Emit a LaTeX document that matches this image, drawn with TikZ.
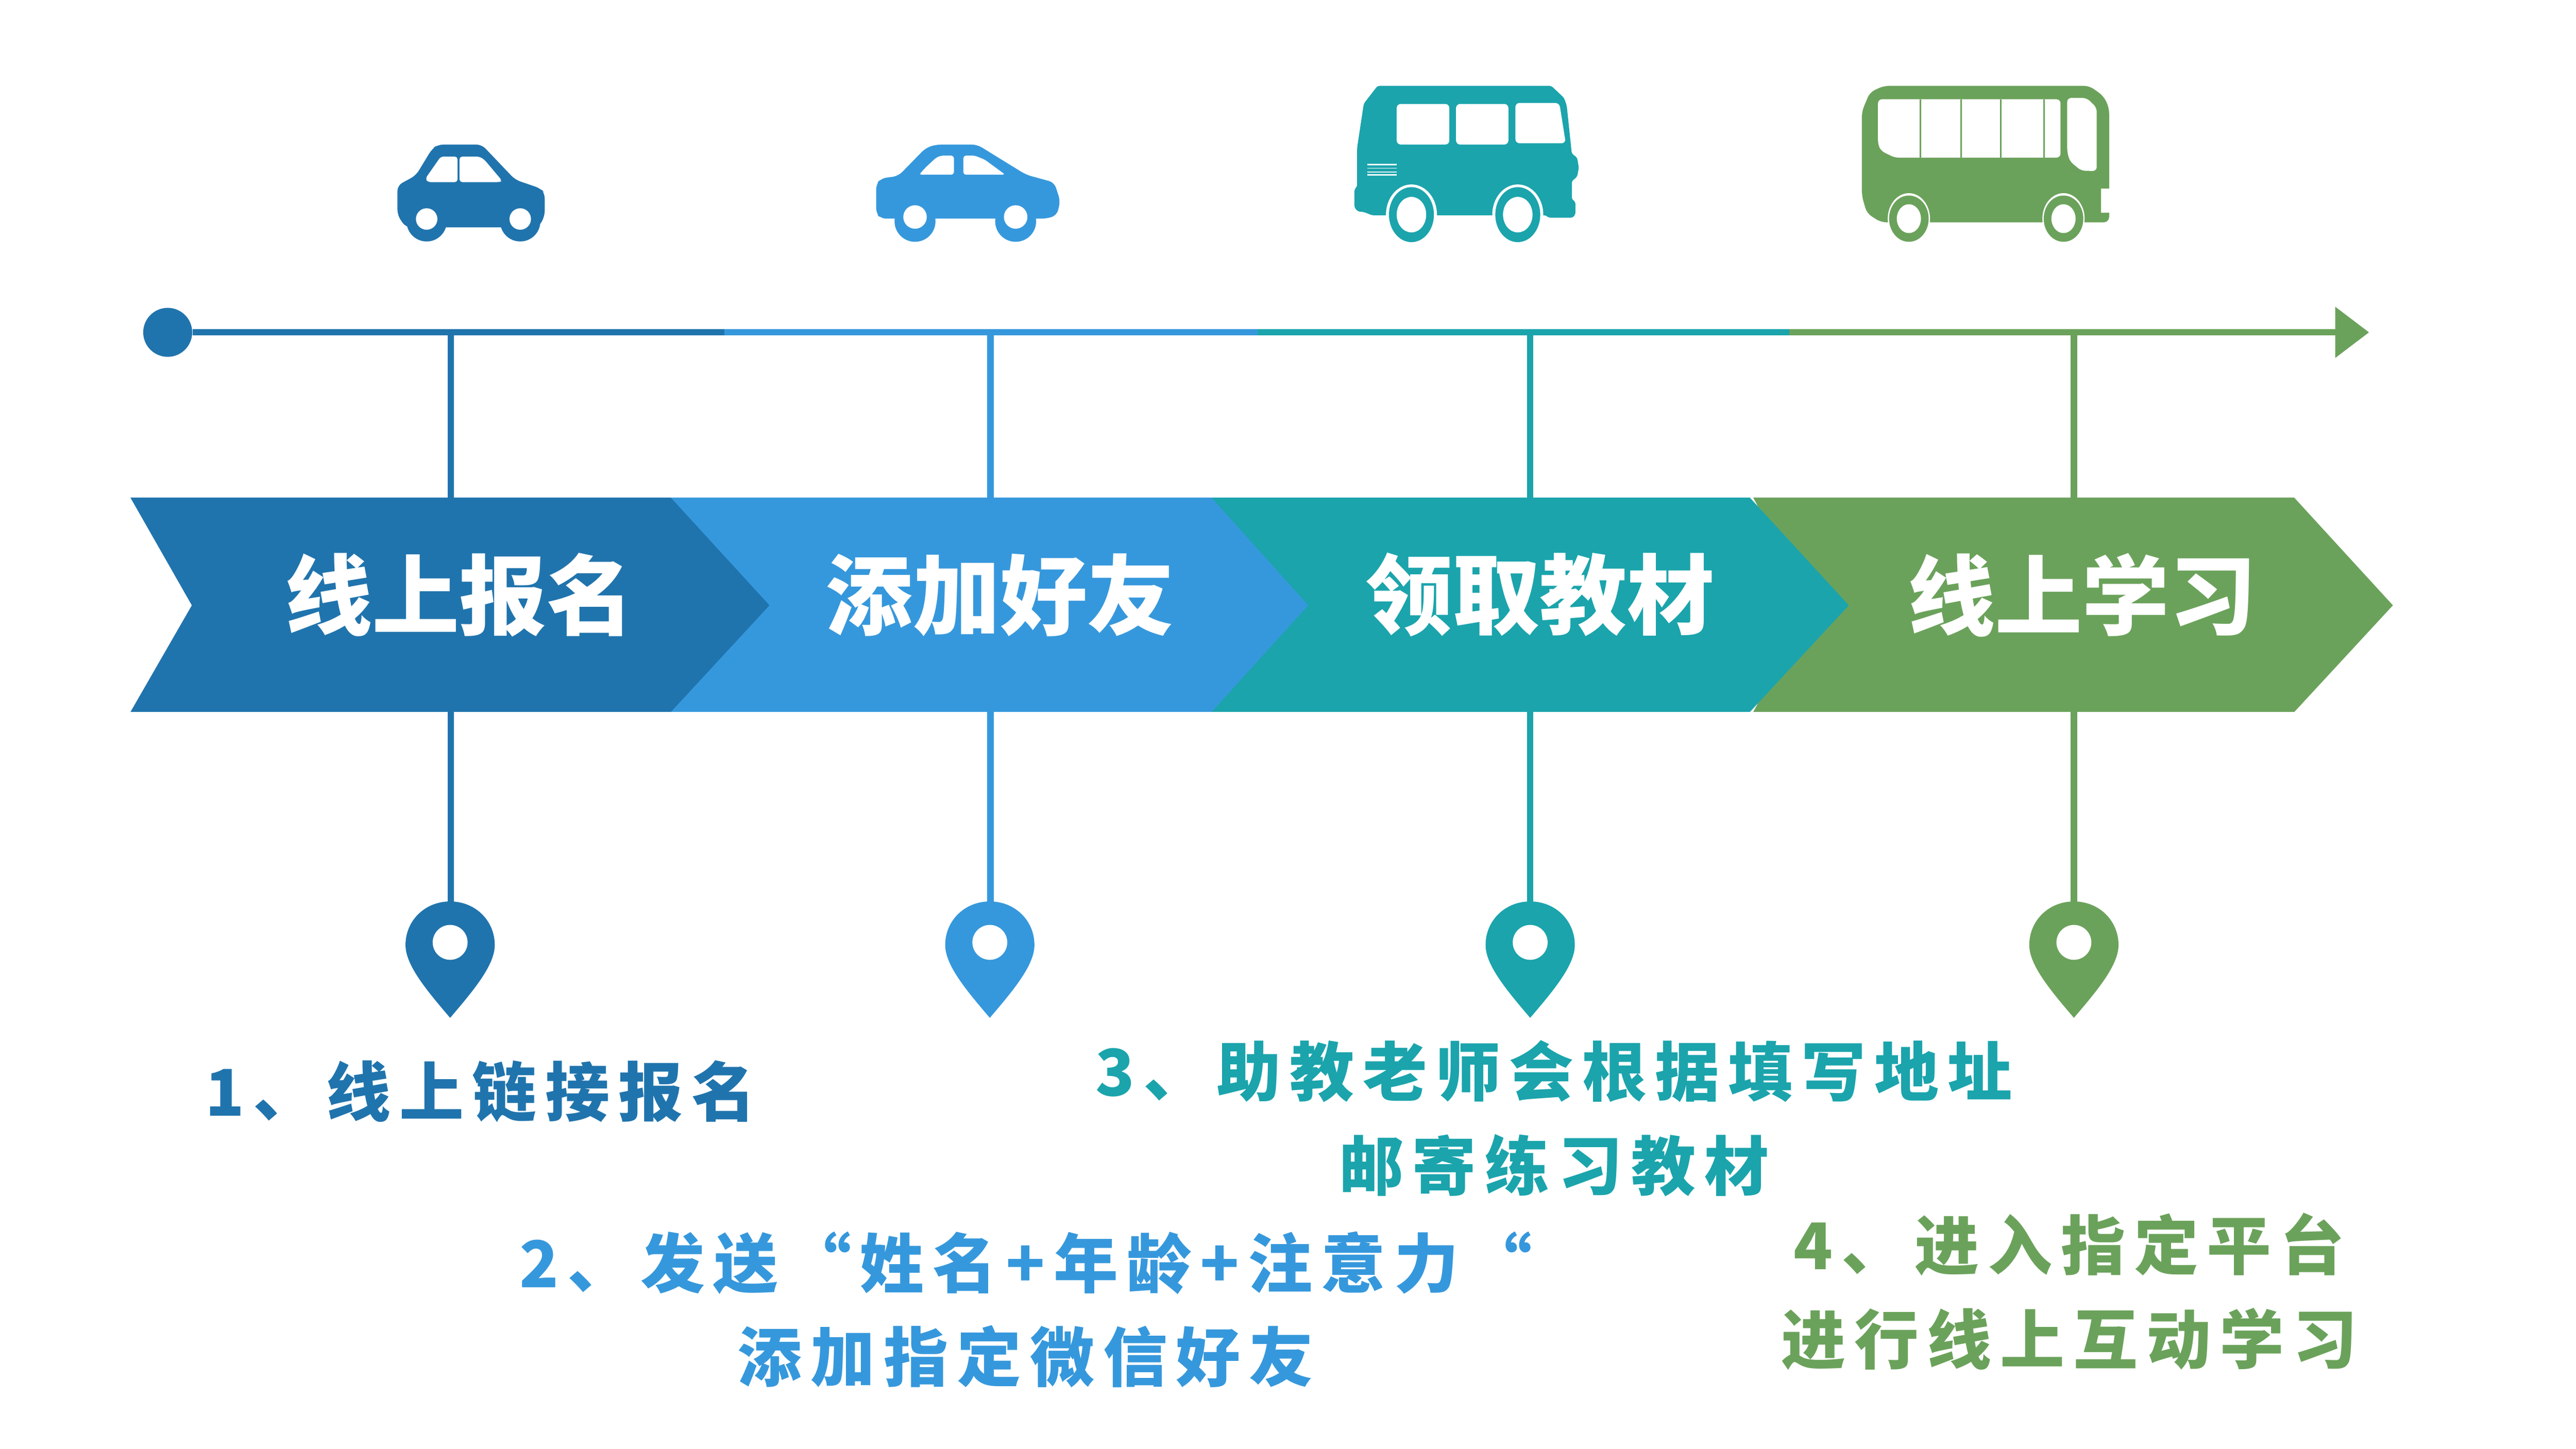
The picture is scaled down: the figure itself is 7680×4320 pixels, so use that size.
\documentclass[tikz,border=0pt]{standalone}
\usepackage{fontspec}
\usepackage{xcolor}
\usetikzlibrary{arrows.meta}
\newfontfamily\cjk{Noto Sans CJK SC}
\newfontfamily\cjkspaced[LetterSpace=13.5]{Noto Sans CJK SC}
\definecolor{navyblue}{HTML}{2074AD}
\definecolor{skyblue}{HTML}{3698DC}
\definecolor{tealgreen}{HTML}{1BA4AC}
\definecolor{leafgreen}{HTML}{6BA25B}
\tikzstyle{axis} = [draw, line width=4.75pt]
\tikzstyle{axisend} = [draw, line width=4.75pt, -{Triangle[length=25.25pt, width=37pt]}]
\tikzstyle{stem} = [draw, line width=4.75pt]
\tikzstyle{title} = [text=white, font=\cjk\bfseries\fontsize{65}{70}\selectfont]
\tikzstyle{caption} = [align=center, font=\cjkspaced\bfseries\fontsize{48}{70}\selectfont]
\tikzset{
  pinmark/.pic={
    \fill [pic actions] (0,347) .. controls (-70,265) and (-133,190) .. (-133,130)
      .. controls (-133,57) and (-75,0) .. (0,0)
      .. controls (75,0) and (133,57) .. (133,130)
      .. controls (133,190) and (70,265) .. (0,347) -- cycle;
    \fill [white] (0,122) circle (52);
  }
}
\begin{document}
\begin{tikzpicture}[x=0.25pt, y=-0.25pt]
      \useasboundingbox (0,0) rectangle (7680,4320);
      % timeline
      \node [circle, fill=navyblue, minimum size=36.5pt, inner sep=0pt] (start) at (500,991) {};
      \coordinate (seg1) at (2160,991);
      \coordinate (seg2) at (3750,991);
      \coordinate (seg3) at (5334,991);
      \coordinate (tip) at (7063,991);
      \coordinate (top1) at (1344,991);
      \coordinate (top2) at (2953,991);
      \coordinate (top3) at (4562,991);
      \coordinate (top4) at (6183,991);
      \coordinate (pin1) at (1344,2700);
      \coordinate (pin2) at (2953,2700);
      \coordinate (pin3) at (4562,2700);
      \coordinate (pin4) at (6183,2700);
      % Draw edges
      \path [stem, navyblue] (top1) -- (pin1);
      \path [stem, skyblue] (top2) -- (pin2);
      \path [stem, tealgreen] (top3) -- (pin3);
      \path [stem, leafgreen] (top4) -- (pin4);
      \path [axisend, leafgreen] (seg3) -- (tip);
      \path [axis, tealgreen] (seg2) -- (seg3);
      \path [axis, skyblue] (seg1) -- (seg2);
      \path [axis, navyblue] (start) -- (seg1);
      % chevrons
      \fill [leafgreen] (5227,1484) -- (6840,1484) -- (7134,1805) -- (6840,2123) -- (5227,2123) -- (5400,1805) -- cycle;
      \fill [tealgreen] (3612,1484) -- (5217,1484) -- (5512,1805) -- (5217,2123) -- (3612,2123) -- (3800,1805) -- cycle;
      \fill [skyblue] (2000,1484) -- (3612,1484) -- (3900,1805) -- (3612,2123) -- (2000,2123) -- (2200,1805) -- cycle;
      \fill [navyblue] (389,1484) -- (2000,1484) -- (2294,1805) -- (2000,2123) -- (389,2123) -- (572,1805) -- cycle;
      \node [title] (title1) at (1370,1774) {线上报名};
      \node [title] (title2) at (2982,1774) {添加好友};
      \node [title] (title3) at (4591,1774) {领取教材};
      \node [title] (title4) at (6208,1774) {线上学习};
      % pins
      \pic [fill=navyblue] at (1342,2688) {pinmark};
      \pic [fill=skyblue] at (2951,2688) {pinmark};
      \pic [fill=tealgreen] at (4562,2688) {pinmark};
      \pic [fill=leafgreen] at (6183,2688) {pinmark};
      % captions
      \node [caption, text=navyblue] (cap1) at (1433,3254) {1、线上链接报名};
      \node [caption, text=skyblue] (cap2) at (3058,3905) {2、发送“姓名+年龄+注意力“\\添加指定微信好友};
      \node [caption, text=tealgreen] (cap3) at (4633,3335) {3、助教老师会根据填写地址\\邮寄练习教材};
      \node [caption, text=leafgreen] (cap4) at (6169,3851) {4、进入指定平台\\进行线上互动学习};
      % first car
      \fill [navyblue, rounded corners=4pt] (1306,431) -- (1436,431) -- (1536,536) -- (1612,562) -- (1624,576) -- (1624,645) -- (1605,678) -- (1210,678) -- (1185,642) -- (1185,553) -- (1240,523) -- (1288,444) -- cycle;
      \fill [navyblue] (1272,660) circle (60);
      \fill [navyblue] (1551,660) circle (60);
      \fill [white] (1272,653) circle (32);
      \fill [white] (1551,653) circle (32);
      \fill [white, rounded corners=2pt] (1314,467) -- (1364,467) -- (1364,543) -- (1276,543) -- (1268,533) -- cycle;
      \fill [white, rounded corners=2pt] (1370,467) -- (1429,467) -- (1444,476) -- (1497,539) -- (1490,543) -- (1370,543) -- cycle;
      % second car
      \fill [skyblue, rounded corners=4pt] (2791,431) -- (2913,431) -- (3059,521) -- (3143,544) -- (3161,599) -- (3151,642) -- (3120,652) -- (2626,652) -- (2612,636) -- (2612,550) -- (2626,532) -- (2678,525) -- (2760,441) -- cycle;
      \fill [skyblue] (2728,660) circle (61);
      \fill [skyblue] (3028,660) circle (61);
      \fill [white] (2728,647) circle (35);
      \fill [white] (3028,647) circle (35);
      \fill [white, rounded corners=2pt] (2806,464) -- (2844,464) -- (2844,521) -- (2740,521) -- (2760,499) -- (2791,470) -- cycle;
      \fill [white, rounded corners=2pt] (2872,464) -- (2906,464) -- (2936,476) -- (2997,521) -- (2872,521) -- cycle;
      % first bus
      \fill [tealgreen, rounded corners=1.5pt] (4107,256) -- (4625,256) -- (4663,292) -- (4671,315) -- (4686,458) -- (4702,470) -- (4707,500) -- (4702,527) -- (4686,540) -- (4686,594) -- (4697,602) -- (4697,639) -- (4689,649) -- (4616,649) -- (4610,642) -- (4091,642) -- (4066,632) -- (4049,631) -- (4038,619) -- (4038,564) -- (4046,557) -- (4046,441) -- (4066,309) -- cycle;
      \fill [white] (4208,640) ellipse [x radius=76, y radius=90];
      \fill [white] (4525,640) ellipse [x radius=76, y radius=90];
      \fill [tealgreen] (4208,640) ellipse [x radius=67, y radius=82];
      \fill [tealgreen] (4525,640) ellipse [x radius=67, y radius=82];
      \fill [white] (4208,640) ellipse [x radius=44, y radius=53];
      \fill [white] (4525,640) ellipse [x radius=44, y radius=53];
      \fill [white, rounded corners=3pt] (4164,310) rectangle (4321,431);
      \fill [white, rounded corners=3pt] (4341,310) rectangle (4497,431);
      \fill [white, rounded corners=3pt] (4518,307) -- (4649,307) -- (4668,427) -- (4518,427) -- cycle;
      \fill [white] (4076,489) rectangle (4164,493);
      \fill [white] (4076,500) rectangle (4164,503);
      \fill [white] (4076,511) rectangle (4164,515);
      \fill [white] (4076,519) rectangle (4164,523);
      % second bus
      \fill [leafgreen, rounded corners=4pt] (5616,256) -- (6229,256) -- (6271,286) -- (6288,321) -- (6288,663) -- (5608,663) -- (5566,636) -- (5551,585) -- (5551,332) -- (5575,275) -- cycle;
      \fill [white] (5691,652) ellipse [x radius=63, y radius=76];
      \fill [white] (6152,652) ellipse [x radius=63, y radius=76];
      \fill [leafgreen] (5691,652) ellipse [x radius=59, y radius=69];
      \fill [leafgreen] (6152,652) ellipse [x radius=59, y radius=69];
      \fill [white] (5691,652) ellipse [x radius=36, y radius=43];
      \fill [white] (6152,652) ellipse [x radius=36, y radius=43];
      \fill [white, rounded corners=3pt] (5599,296) -- (6143,296) -- (6143,470) -- (5649,470) -- (5608,450) -- (5599,430) -- cycle;
      \fill [white, rounded corners=3pt] (6163,292) -- (6221,292) -- (6251,321) -- (6251,510) -- (6205,509) -- (6171,481) -- (6163,453) -- cycle;
      \fill [white] (6263,562) rectangle (6290,634);
      \fill [leafgreen] (5723,296) rectangle (5728,470);
      \fill [leafgreen] (5844,296) rectangle (5849,470);
      \fill [leafgreen] (5962,296) rectangle (5967,470);
      \fill [leafgreen] (6092,296) rectangle (6097,470);
  \end{tikzpicture}
\end{document}
